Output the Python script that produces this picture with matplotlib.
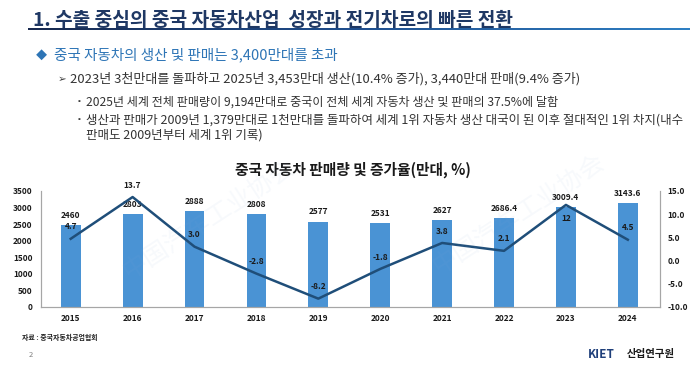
import numpy as np
import matplotlib.pyplot as plt
from matplotlib.colors import LinearSegmentedColormap

plt.rcParams['font.family'] = ['Noto Sans CJK KR', 'DejaVu Sans']

years = ['2015', '2016', '2017', '2018', '2019', '2020', '2021', '2022', '2023', '2024']
sales = [2460, 2803, 2888, 2808, 2577, 2531, 2627, 2686.4, 3009.4, 3143.6]
sales_labels = ['2460', '2803', '2888', '2808', '2577', '2531', '2627', '2686.4', '3009.4', '3143.6']
growth = [4.7, 13.7, 3.0, -2.8, -8.2, -1.8, 3.8, 2.1, 12, 4.5]
growth_labels = ['4.7', '13.7', '3.0', '-2.8', '-8.2', '-1.8', '3.8', '2.1', '12', '4.5']
left_ticks = [0, 500, 1000, 1500, 2000, 2500, 3000, 3500]
right_ticks = [-10, -5, 0, 5, 10, 15]

W, H = 700, 367
fig = plt.figure(figsize=(7, 3.67), dpi=100)


def fx(x):
    return x / W


def fy(y):
    return 1 - y / H


# slide header
fig.text(fx(33), fy(20), '1. 수출 중심의 중국 자동차산업  성장과 전기차로의 빠른 전환',
         fontsize=13.8, fontweight='bold', color='#1f3864', va='center', ha='left')
hdr = fig.add_axes([fx(28), fy(30.5), fx(690) - fx(28), 3 / H])
cmap = LinearSegmentedColormap.from_list('hdr', ['#17294f', '#1f4f8f', '#2f80c4'])
hdr.imshow(np.linspace(0, 1, 256).reshape(1, -1), aspect='auto', cmap=cmap)
hdr.axis('off')

# bullet text
fig.text(fx(36), fy(55), '◆', fontsize=8, color='#2e75b6', va='center')
fig.text(fx(54), fy(55), '중국 자동차의 생산 및 판매는 3,400만대를 초과',
         fontsize=10.5, color='#2e75b6', va='center')
fig.text(fx(58), fy(79), '➢', fontsize=7.5, color='#404040', va='center')
fig.text(fx(70), fy(79), '2023년 3천만대를 돌파하고 2025년 3,453만대 생산(10.4% 증가), 3,440만대 판매(9.4% 증가)',
         fontsize=9.4, color='#333333', va='center')
fig.text(fx(76), fy(102), '▪', fontsize=5, color='#404040', va='center')
fig.text(fx(86), fy(102), '2025년 세계 전체 판매량이 9,194만대로 중국이 전체 세계 자동차 생산 및 판매의 37.5%에 달함',
         fontsize=8.7, color='#333333', va='center')
fig.text(fx(76), fy(120), '▪', fontsize=5, color='#404040', va='center')
fig.text(fx(86), fy(120), '생산과 판매가 2009년 1,379만대로 1천만대를 돌파하여 세계 1위 자동차 생산 대국이 된 이후 절대적인 1위 차지(내수',
         fontsize=9.0, color='#333333', va='center')
fig.text(fx(86), fy(135), '판매도 2009년부터 세계 1위 기록)',
         fontsize=9.0, color='#333333', va='center')

# chart
ax = fig.add_axes([fx(41), fy(307), fx(660) - fx(41), (307 - 191) / H])
x = np.arange(len(years))
ax.bar(x, sales, width=0.32, color='#4a93d4', zorder=2)
ax.set_xlim(-0.48, 9.52)
ax.set_ylim(0, 3500)
ax.set_yticks(left_ticks)
ax.set_xticks(x)
ax.set_xticklabels(years)
for i, v in enumerate(sales):
    ax.annotate(sales_labels[i], (x[i], v), xytext=(0, 7), textcoords='offset points',
                ha='center', va='center', fontsize=6, fontweight='bold', color='#1a1a1a')

ax2 = ax.twinx()
ax2.plot(x, growth, color='#1f4e79', lw=1.8, zorder=3)
ax2.set_ylim(-10, 15)
ax2.set_yticks(right_ticks)
ax2.set_yticklabels([f'{t:.1f}' for t in right_ticks])
for i, v in enumerate(growth):
    dy = -9.5 if i == 8 else 8.6
    ax2.annotate(growth_labels[i], (x[i], v), xytext=(0, dy), textcoords='offset points',
                 ha='center', va='center', fontsize=6, fontweight='bold', color='#1a1a1a')

for a in (ax, ax2):
    a.spines['top'].set_visible(False)
    for s in ('left', 'right', 'bottom'):
        a.spines[s].set_color('#a6a6a6')
        a.spines[s].set_linewidth(0.8)
    a.tick_params(length=0, labelsize=6)
    for lab in a.get_xticklabels() + a.get_yticklabels():
        lab.set_fontweight('bold')
        lab.set_color('#1a1a1a')
ax.tick_params(axis='y', pad=6)
ax.tick_params(axis='x', pad=5)
ax2.tick_params(axis='y', pad=5.5)

fig.text(fx(353), fy(170), '중국 자동차 판매량 및 증가율(만대, %)', fontsize=10.6,
         fontweight='bold', color='#1a1a1a', ha='center', va='center')

# faint watermark
for wx, wy in ((210, 220), (520, 215)):
    fig.text(fx(wx), fy(wy), '中国汽车工业协会', fontsize=18, rotation=33,
             color='#8fb0d6', alpha=0.07, ha='center', va='center',
             family=['Noto Sans CJK SC', 'DejaVu Sans'], zorder=10)

# footer
fig.text(fx(22), fy(337), '자료 : 중국자동차공업협회', fontsize=5, fontweight='bold',
         color='#222222', va='center')
fig.text(fx(29), fy(355), '2', fontsize=5.5, color='#7f7f7f', va='center')
fig.text(fx(588), fy(354), 'KIET', fontsize=8.5, fontweight='bold', style='italic',
         color='#1f3f7a', va='center')
fig.text(fx(627), fy(354), '산업연구원', fontsize=7.5, fontweight='bold',
         color='#1a1a1a', va='center')

fig.savefig('out.png', dpi=100)
